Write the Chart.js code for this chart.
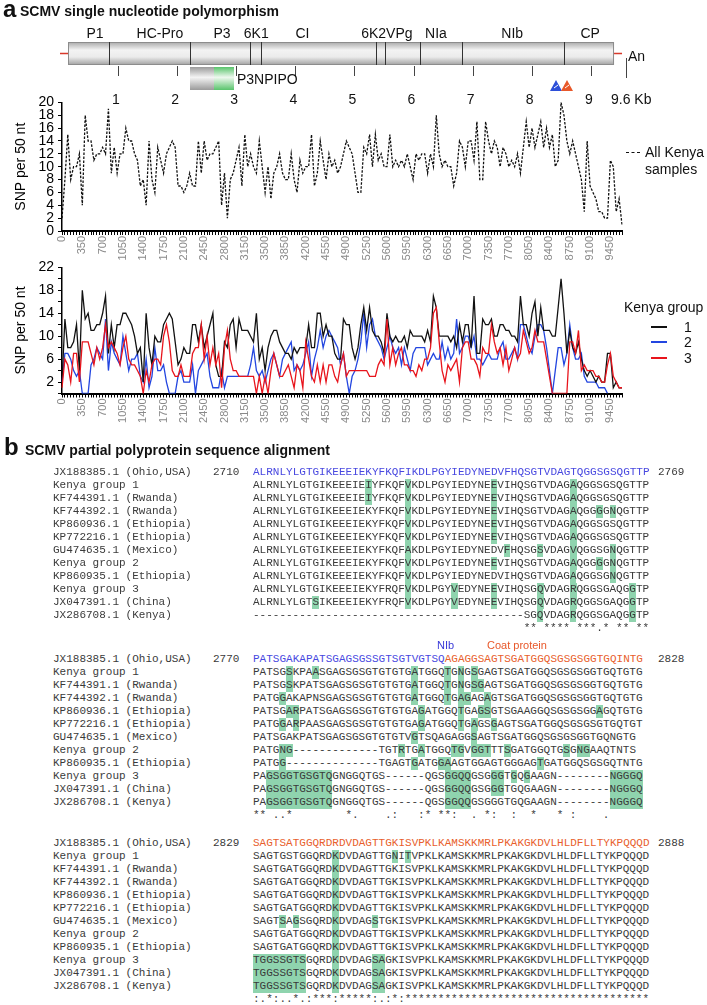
<!DOCTYPE html>
<html>
<head>
<meta charset="utf-8">
<script src="https://cdn.jsdelivr.net/npm/chart.js@4.4.0/dist/chart.umd.min.js"></script>
<style>
  body { margin: 0; background: #fff; }
  #pagina { position: relative; width: 707px; height: 1005px; overflow: hidden;
            font-family: "Liberation Sans", Arial, sans-serif; color: #111; }
  .abs { position: absolute; white-space: pre; }
  .seq { position: absolute; white-space: pre; font-family: "Liberation Mono", "DejaVu Sans Mono", monospace;
         font-size: 11px; line-height: 13px; height: 13px; color: #3a3a3a; }
  .hl { background: #8fd4ae; display: inline-block; height: 13px; vertical-align: top; }
</style>
</head>
<body>
<div id="pagina">
  <canvas id="mapaGenoma" width="707" height="110" style="position:absolute;left:0;top:0"></canvas>
  <div style="position:absolute;left:0;top:90px;width:707px;height:180px"><canvas id="graficoSnp"></canvas></div>
  <div style="position:absolute;left:0;top:255px;width:707px;height:180px"><canvas id="graficoGrupos"></canvas></div>
</div>

<script>
// ---------------------------------------------------------------------------
// Dados: SNP por janela de 50 nt
// ---------------------------------------------------------------------------
const passoJanela = 50;
const totalJanelas = 194;
const posicoesNt = Array.from({ length: totalJanelas }, (_, i) => String(i * passoJanela));

const snpTodasAmostras = [
  2, 8, 15, 8, 10, 10, 12, 4, 18, 14,
  14, 11, 12, 12, 13, 12, 19, 9, 13, 9,
  12, 12, 16, 14, 14, 12, 11, 7, 8, 4,
  14, 8, 6, 13, 11, 9, 12, 13, 14, 13,
  7, 7, 6, 7, 9, 7, 7, 14, 9, 14,
  11, 12, 12, 13, 14, 4, 9, 2, 8, 9,
  11, 13, 7, 15, 10, 12, 10, 9, 14, 10,
  6, 10, 5, 9, 10, 12, 9, 8, 8, 12,
  8, 6, 11, 9, 10, 10, 15, 7, 9, 14,
  11, 8, 12, 10, 11, 9, 10, 12, 14, 13,
  12, 9, 6, 6, 13, 12, 15, 10, 15, 11,
  12, 10, 10, 15, 10, 11, 10, 11, 10, 12,
  10, 8, 12, 11, 12, 12, 9, 12, 10, 18,
  12, 10, 11, 10, 10, 7, 9, 14, 13, 10,
  14, 14, 11, 17, 8, 8, 17, 14, 12, 14,
  13, 10, 13, 12, 10, 11, 10, 12, 9, 13,
  17, 13, 16, 13, 15, 17, 13, 16, 13, 15,
  10, 11, 20, 18, 14, 12, 14, 12, 10, 8,
  3, 14, 7, 6, 5, 3, 3, 2, 2, 11,
  10, 3, 5, 1
];

const snpGrupo1 = [
  2, 13, 8, 8, 9, 12, 4, 18, 13, 14,
  11, 11, 12, 12, 14, 17, 7, 12, 8, 12,
  12, 14, 14, 13, 12, 10, 7, 8, 2, 14,
  8, 5, 10, 9, 9, 12, 13, 14, 13, 9,
  5, 6, 8, 7, 7, 12, 12, 9, 12, 8,
  10, 12, 14, 5, 3, 3, 9, 8, 12, 13,
  8, 13, 11, 11, 11, 10, 9, 14, 6, 8,
  4, 8, 10, 11, 11, 9, 8, 7, 7, 6,
  8, 7, 8, 8, 8, 12, 8, 8, 14, 14,
  10, 12, 10, 10, 7, 6, 6, 13, 12, 12,
  8, 6, 8, 12, 15, 11, 15, 11, 10, 10,
  9, 7, 14, 10, 9, 10, 9, 9, 10, 8,
  11, 10, 10, 10, 10, 9, 11, 9, 17, 15,
  10, 10, 10, 10, 9, 10, 8, 12, 9, 12,
  12, 8, 17, 7, 7, 13, 12, 12, 13, 10,
  10, 12, 12, 11, 11, 10, 10, 9, 17, 12,
  12, 10, 14, 16, 10, 15, 11, 11, 11, 10,
  10, 15, 20, 14, 7, 11, 8, 7, 9, 6,
  4, 3, 4, 3, 2, 3, 2, 2, 7, 7,
  1, 2, 1, 1
];

const snpGrupo2 = [
  2, 7, 7, 6, 4, 3, 4, 0, 0, 0,
  5, 6, 8, 7, 6, 13, 4, 9, 7, 6,
  5, 10, 7, 4, 6, 6, 7, 3, 2, 6,
  1, 3, 8, 4, 4, 5, 2, 0, 0, 0,
  3, 4, 2, 2, 2, 5, 0, 4, 5, 6,
  7, 3, 1, 1, 1, 4, 1, 3, 3, 3,
  3, 3, 3, 3, 3, 5, 8, 4, 3, 4,
  2, 4, 6, 7, 5, 3, 6, 7, 8, 9,
  4, 5, 4, 5, 7, 9, 3, 6, 8, 11,
  8, 10, 11, 10, 9, 8, 5, 7, 3, 0,
  3, 4, 6, 9, 14, 8, 12, 13, 10, 9,
  8, 6, 8, 10, 8, 7, 8, 5, 8, 6,
  4, 7, 8, 8, 8, 8, 5, 6, 7, 6,
  6, 9, 6, 8, 6, 7, 13, 7, 8, 10,
  10, 8, 10, 6, 6, 5, 6, 7, 6, 6,
  6, 8, 9, 6, 6, 7, 8, 6, 12, 12,
  10, 8, 7, 10, 12, 12, 11, 8, 4, 0,
  4, 8, 8, 5, 7, 12, 8, 6, 6, 7,
  3, 2, 2, 2, 2, 1, 1, 1, 0, null,
  null, null, null, null
];

const snpGrupo3 = [
  1, 6, 5, 2, 7, 7, 2, 9, 9, 9,
  7, 5, 8, 6, 8, 12, 8, 9, 8, 7,
  5, 8, 10, 6, 5, 5, 4, 3, 0, 4,
  2, 5, 6, 6, 5, 10, 12, 9, 4, 3,
  3, 5, 3, 3, 3, 7, 8, 8, 12, 6,
  10, 5, 8, 5, 7, 1, 8, 11, 6, 4,
  4, 3, 3, 3, 3, 3, 3, 0, 3, 0,
  3, 0, 4, 7, 5, 3, 3, 4, 5, 3,
  1, 5, 4, 1, 9, 6, 3, 2, 5, 2,
  5, 2, 5, 5, 3, 2, 5, 7, 3, 4,
  4, 4, 4, 4, 4, 4, 3, 3, 3, 5,
  6, 5, 13, 5, 8, 5, 7, 8, 5, 5,
  4, 4, 3, 5, 4, 6, 6, 8, 14, 15,
  9, 4, 2, 5, 4, 5, 6, 2, 8, 9,
  9, 6, 6, 5, 3, 8, 7, 7, 12, 9,
  7, 8, 5, 8, 4, 6, 8, 6, 7, 11,
  9, 7, 8, 11, 9, 9, 9, 6, 3, 0,
  0, 0, 0, 0, 0, 9, 9, 7, 11, 4,
  5, 4, 4, 4, 3, 3, 2, 2, 5, 7,
  3, 2, 1, 1
];

// ---------------------------------------------------------------------------
// Mapa do genoma (posições em kb)
// ---------------------------------------------------------------------------
const barraGenomaKb = [0.154, 9.393];
const limitesGenesKb = [0.848, 2.218, 3.233, 3.420, 5.364, 5.516, 6.108, 6.819, 8.545];
const nomesGenes = ['P1', 'HC-Pro', 'P3', '6K1', 'CI', '6K2VPg', 'NIa', 'NIb', 'CP'];
const centrosGenesKb = [0.61, 1.71, 2.76, 3.34, 4.12, 5.55, 6.38, 7.67, 8.99];
const marcasKb = ['1', '2', '3', '4', '5', '6', '7', '8', '9'];

const pagina = document.getElementById('pagina');

function rotulo(texto, x, y, estilo, centralizado) {
  const el = document.createElement('div');
  el.className = 'abs';
  el.textContent = texto;
  el.style.left = x + 'px';
  el.style.top = y + 'px';
  el.style.transform = centralizado ? 'translate(-50%,-50%)' : 'translate(0,-50%)';
  el.style.cssText += estilo || '';
  pagina.appendChild(el);
  return el;
}

function desenharGenoma() {
  const g = document.getElementById('mapaGenoma').getContext('2d');
  const kbParaPx = kb => 58.9 + kb * 59.1;
  const x0 = kbParaPx(barraGenomaKb[0]);
  const x1 = kbParaPx(barraGenomaKb[1]);

  // traços vermelhos nas pontas
  g.strokeStyle = '#d8392b';
  g.lineWidth = 1.5;
  g.beginPath();
  g.moveTo(x0 - 8, 53.5); g.lineTo(x0, 53.5);
  g.moveTo(x1, 53.5); g.lineTo(x1 + 8, 53.5);
  g.stroke();

  // barra cinza
  const grad = g.createLinearGradient(0, 42, 0, 65);
  grad.addColorStop(0, '#a8a8a8');
  grad.addColorStop(0.35, '#f3f3f3');
  grad.addColorStop(0.65, '#ebebeb');
  grad.addColorStop(1, '#a0a0a0');
  g.fillStyle = grad;
  g.fillRect(x0, 42, x1 - x0, 23);
  g.strokeStyle = '#8c8c8c';
  g.lineWidth = 1;
  g.strokeRect(x0 + 0.5, 42.5, x1 - x0 - 1, 22);

  g.strokeStyle = '#333';
  g.beginPath();
  limitesGenesKb.forEach(kb => {
    const x = Math.round(kbParaPx(kb)) + 0.5;
    g.moveTo(x, 42); g.lineTo(x, 65);
  });
  g.stroke();

  // marcas de kb abaixo
  g.strokeStyle = '#444';
  g.beginPath();
  marcasKb.forEach(k => {
    const x = Math.round(kbParaPx(Number(k))) + 0.5;
    g.moveTo(x, 66); g.lineTo(x, 76);
  });
  const xFim = Math.round(kbParaPx(9.6)) + 0.5;
  g.moveTo(xFim, 58); g.lineTo(xFim, 78);
  g.stroke();

  // caixa P3N-PIPO
  const gc = g.createLinearGradient(0, 67, 0, 90);
  gc.addColorStop(0, '#9a9a9a'); gc.addColorStop(0.45, '#f4f4f4'); gc.addColorStop(1, '#9a9a9a');
  g.fillStyle = gc;
  g.fillRect(190, 67, 24, 23);
  const gv = g.createLinearGradient(0, 67, 0, 90);
  gv.addColorStop(0, '#59c46c'); gv.addColorStop(0.45, '#eef8ee'); gv.addColorStop(1, '#59c46c');
  g.fillStyle = gv;
  g.fillRect(214, 67, 20, 23);

  // triângulos (azul e laranja)
  [['#2d4fd8', 556], ['#e8582a', 567]].forEach(([cor, x]) => {
    g.fillStyle = cor;
    g.beginPath();
    g.moveTo(x, 80); g.lineTo(x + 6, 91); g.lineTo(x - 6, 91); g.closePath();
    g.fill();
    g.strokeStyle = '#fff';
    g.lineWidth = 1;
    g.beginPath();
    g.moveTo(x - 2, 88); g.lineTo(x + 2, 85);
    g.stroke();
  });

  nomesGenes.forEach((n, i) => rotulo(n, kbParaPx(centrosGenesKb[i]), 33, 'font-size:14px;', true));
  marcasKb.forEach(k => rotulo(k, kbParaPx(Number(k)) - 2, 99, 'font-size:14px;', true));
  rotulo('9.6 Kb', 611, 99, 'font-size:14px;', false);
  rotulo('An', 628, 56, 'font-size:14px;', false);
  rotulo('P3NPIPO', 237, 79, 'font-size:14px;', false);
}

// ---------------------------------------------------------------------------
// Títulos e legendas (texto real)
// ---------------------------------------------------------------------------
rotulo('a', 3, 9, 'font-size:24px;font-weight:bold;', false);
rotulo('SCMV single nucleotide polymorphism', 20, 11, 'font-size:14px;font-weight:bold;', false);
rotulo('b', 4, 447, 'font-size:24px;font-weight:bold;', false);
rotulo('SCMV partial polyprotein sequence alignment', 25, 450, 'font-size:14px;font-weight:bold;', false);

const tracoLegenda = document.createElement('div');
tracoLegenda.style.cssText = 'position:absolute;left:626px;top:152px;width:14px;border-top:1.5px dashed #111;';
pagina.appendChild(tracoLegenda);
rotulo('All Kenya', 645, 152, 'font-size:14px;', false);
rotulo('samples', 645, 169, 'font-size:14px;', false);

rotulo('Kenya group', 624, 307, 'font-size:14px;', false);
const coresGrupos = ['#111111', '#2346e0', '#e8141c'];
['1', '2', '3'].forEach((n, i) => {
  const y = Math.round(327 + i * 15.3);
  const linha = document.createElement('div');
  linha.style.cssText = `position:absolute;left:651px;top:${y - 1}px;width:16px;height:2px;background:${coresGrupos[i]};`;
  pagina.appendChild(linha);
  rotulo(n, 688, y, 'font-size:14px;', true);
});

desenharGenoma();

// ---------------------------------------------------------------------------
// Gráficos (Chart.js)
// ---------------------------------------------------------------------------
Chart.defaults.font.family = '"Liberation Sans", Arial, sans-serif';
Chart.defaults.color = '#000';
Chart.defaults.animation = false;

function eixoX(altura) {
  return {
    type: 'category',
    offset: false,
    afterFit: s => { s.height = altura; },
    border: { display: true, color: '#000', width: 2 },
    grid: { drawOnChartArea: false, drawTicks: true, tickLength: 4, color: '#000', lineWidth: 1 },
    ticks: {
      autoSkip: false, maxRotation: 90, minRotation: 90, padding: 1,
      color: '#8a8a8a', font: { size: 11 },
      callback: function (v, i) { return i % 7 === 0 ? this.getLabelForValue(v) : ''; }
    }
  };
}

function eixoY(max, mostrar) {
  return {
    min: 0, max: max,
    afterFit: s => { s.width = 62; },
    border: { display: true, color: '#000', width: 1.5 },
    grid: { drawOnChartArea: false, drawTicks: true, tickLength: 4, color: '#000' },
    ticks: { stepSize: 2, padding: 4, font: { size: 14 }, color: '#000', autoSkip: false,
      callback: v => (mostrar(v) ? String(v) : '') },
    title: { display: true, text: 'SNP per 50 nt', font: { size: 14 }, padding: { top: 12.5, bottom: 0 } }
  };
}

const graficoSnp = new Chart(document.getElementById('graficoSnp'), {
  type: 'line',
  data: {
    labels: posicoesNt,
    datasets: [{
      label: 'All Kenya samples',
      data: snpTodasAmostras,
      borderColor: '#111',
      borderWidth: 1.3,
      borderDash: [2.5, 1.5],
      pointRadius: 0,
      tension: 0
    }]
  },
  options: {
    responsive: true,
    maintainAspectRatio: false,
    layout: { padding: { top: 12, right: 85, left: 0, bottom: 0 } },
    plugins: { legend: { display: false }, tooltip: { enabled: false } },
    scales: { x: eixoX(39), y: eixoY(20, () => true) }
  }
});

const graficoGrupos = new Chart(document.getElementById('graficoGrupos'), {
  type: 'line',
  data: {
    labels: posicoesNt,
    datasets: [
      { label: '1', data: snpGrupo1, borderColor: coresGrupos[0], borderWidth: 1.3, pointRadius: 0, tension: 0, order: 2 },
      { label: '2', data: snpGrupo2, borderColor: coresGrupos[1], borderWidth: 1.3, pointRadius: 0, tension: 0, order: 3 },
      { label: '3', data: snpGrupo3, borderColor: coresGrupos[2], borderWidth: 1.3, pointRadius: 0, tension: 0, order: 1 }
    ]
  },
  options: {
    responsive: true,
    maintainAspectRatio: false,
    layout: { padding: { top: 12, right: 85, left: 0, bottom: 0 } },
    plugins: { legend: { display: false }, tooltip: { enabled: false } },
    scales: { x: eixoX(41.5), y: eixoY(22, v => v % 4 === 2) }
  }
});

// ---------------------------------------------------------------------------
// Alinhamento de sequências (painel b)
// ---------------------------------------------------------------------------
const nomesSequencias = [
  'JX188385.1 (Ohio,USA)', 'Kenya group 1', 'KF744391.1 (Rwanda)', 'KF744392.1 (Rwanda)',
  'KP860936.1 (Ethiopia)', 'KP772216.1 (Ethiopia)', 'GU474635.1 (Mexico)', 'Kenya group 2',
  'KP860935.1 (Ethiopia)', 'Kenya group 3', 'JX047391.1 (China)', 'JX286708.1 (Kenya)'
];

const bloco1Seqs = [
  'ALRNLYLGTGIKEEEIEKYFKQFIKDLPGYIEDYNEDVFHQSGTVDAGTQGGSGSQGTTP',
  'ALRNLYLGTGIKEEEIEIYFKQFVKDLPGYIEDYNEEVIHQSGTVDAGAQGGSGSQGTTP',
  'ALRNLYLGTGIKEEEIEIYFKQFVKDLPGYIEDYNEEVIHQSGTVDAGAQGGSGSQGTTP',
  'ALRNLYLGTGIKEEEIEKYFKQFVKDLPGYIEDYNEEVIHQSGTVDAGAQGGGGNQGTTP',
  'ALRNLYLGTGIKEEEIEKYFKQFVKDLPGYIEDYNEEVIHQSGTVDAGAQGGSGSQGTTP',
  'ALRNLYLGTGIKEEEIEKYFKQFVKDLPGYIEDYNEEVIHQSGTVDAGAQGGSGSQGTTP',
  'ALRNLYLGTGIKEEEIEKYFKQFAKDLPGYIEDYNEDVFHQSGSVDAGVQGGSGNQGTTP',
  'ALRNLYLGTGIKEEEIEKYFKQFVKDLPGYIEDYNEEVIHQSGTVDAGAQGGGGNQGTTP',
  'ALRNLYLGTGIKEEEIEKYFKQFVKDLPGYIEDYNEDVIHQSGTVDAGAQGGSGNQGTTP',
  'ALRNLYLGTGIKEEEIEKYFRQFVKDLPGYVEDYNEEVIHQSGQVDAGRQGGSGAQGGTP',
  'ALRNLYLGTSIKEEEIEKYFRQFVKDLPGYVEDYNEEVIHQSGQVDAGRQGGSGAQGGTP',
  '-----------------------------------------SGQVDAGRQGGSGAQGGTP'
];
const bloco1Destaques = [
  [], [18, 24, 37, 49], [18, 24, 37, 49], [24, 37, 49, 53, 55], [24, 37, 49], [24, 37, 49],
  [24, 39, 44, 49, 55], [24, 37, 49, 53, 55], [24, 49, 55], [24, 31, 37, 44, 49, 58],
  [10, 24, 31, 37, 44, 49, 58], [44, 49, 58]
];
const bloco1Consenso = '                                         ** **** ***.* ** **';

const bloco2Seqs = [
  'PATSGAKAPATSGAGSGSSGTSGTVGTSQAGAGGSAGTSGATGGQSGSGSGGTGQINTG',
  'PATSGSKPAASGAGSGSGTGTGTGATGGQTGNGSGAGTSGATGGQSGSGSGGTGQTGTG',
  'PATSGSKPATSGAGSGSGTGTGTGATGGQTGNGSGAGTSGATGGQSGSGSGGTGQTGTG',
  'PATGGAKAPNSGAGSGSGTGTGTGATGGQTGAGAGAGTSGATGGQSGSGSGGTGQTGTG',
  'PATSGARPATSGAGSGSGTGTGTGAGATGGQTGAGSGTSGAAGGQSGSGSGGAGQTGTG',
  'PATGGARPAASGAGSGSGTGTGTGAGATGGQTGAGSGAGTSGATGGQSGSGSGTGQTGT',
  'PATSGAKPATSGAGSGSGTGTGTVGTSQAGAGGSAGTSGATGGQSGSGSGGTGQNGTG',
  'PATGNG-------------TGTRTGATGGQTGVGGTTTSGATGGQTGSGNGAAQTNTS',
  'PATGG--------------TGAGTGATGGAAGTGGAGTGGGAGTGATGGQSGSGQTNTG',
  'PAGSGGTGSGTQGNGGQTGS------QGSGGQQGSGGGTGQGAAGN--------NGGGQ',
  'PAGSGGTGSGTQGNGGQTGS------QGSGGQQGSGGGTGQGAAGN--------NGGGQ',
  'PAGSGGTGSGTQGNGGQTGS------QGSGGQQGSGGGTGQGAAGN--------NGGGQ'
];
const bloco2Destaques = [
  [], [6, 10, 25, 30, 32, 34], [6, 25, 30, 32, 34, 35], [5, 25, 30, 32, 33, 36],
  [6, 7, 26, 32, 35, 36, 53], [5, 7, 26, 32, 34, 37], [25, 34],
  [5, 6, 23, 26, 31, 32, 34, 35, 36, 39, 48, 50, 51], [5, 25, 29, 30, 44],
  [3, 4, 5, 6, 7, 8, 9, 10, 11, 12, 30, 31, 32, 33, 37, 38, 40, 42, 55, 56, 57, 58, 59],
  [3, 4, 5, 6, 7, 8, 9, 10, 11, 12, 30, 31, 32, 33, 37, 38, 55, 56, 57, 58, 59],
  [3, 4, 5, 6, 7, 8, 9, 10, 11, 12, 30, 31, 32, 33, 55, 56, 57, 58, 59]
];
const bloco2Consenso = '** ..*        *.    .:   :* **:  . *:  :  *   * :    .';

const bloco3Seqs = [
  'SAGTSATGGQRDRDVDAGTTGKISVPKLKAMSKKMRLPKAKGKDVLHLDFLLTYKPQQQD',
  'SAGTGSTGGQRDKDVDAGTTGNITVPKLKAMSKKMRLPKAKGKDVLHLDFLLTYKPQQQD',
  'SAGTGATGGQRDKDVDAGTTGKISVPKLKAMSKKMRLPKAKGKDVLHLDFLLTYKPQQQD',
  'SAGTGATGGQRDKDVDAGTTGKISVPKLKAMSKKMRLPKAKGKDVLHLDFLLTYKPQQQD',
  'SAGTGATGGQRDKDVDAGTTGKISVPKLKAMSKKMRLPKAKGKDVLHLDFLLTYKPQQQD',
  'SAGTGATGGQRDKDVDAGTTGKISVPKLKAMSKKMRLPKAKGKDVLHLDFLLTYKPQQQD',
  'SAGTSAGSGQRDKDVDAGSTGKISVPKLKAMSKKMRLPKAKGKDVLHLDFLLTYKPQQQD',
  'SAGTGATGGQRDKDVDAGTTGKISVPKLKAMSKKMRLPKAKGKDVLHLDFLLTYKPQQQD',
  'SAGTGATGGQRDKDVDAGTTGKISVPKLKAMSKKMRLPKAKGKDVLHLDFLLTYKPQQQD',
  'TGGSSGTSGQRDKDVDAGSAGKISVPKLKAMSKKMRLPKAKGKDVLHLDFLLTYKPQQQD',
  'TGGSSGTSGQRDKDVDAGSAGKISVPKLKAMSKKMRLPKAKGKDVLHLDFLLTYKPQQQD',
  'TGGSSGTSGQRDKDVDAGSAGKISVPKLKAMSKKMRLPKAKGKDVLHLDFLLTYKPQQQD'
];
const bloco3Destaques = [
  [], [13, 22, 24], [13], [13], [13], [13], [5, 7, 13, 19], [13], [13],
  [1, 2, 3, 4, 5, 6, 7, 8, 13, 19, 20], [1, 2, 3, 4, 5, 6, 7, 8, 13, 19, 20],
  [1, 2, 3, 4, 5, 6, 7, 8, 13, 19, 20]
];
const bloco3Consenso = ':.*:..*.:***:*****:.:*:*************************************';

const blocos = [
  { y: 472, inicio: '2710', fim: '2769', seqs: bloco1Seqs, destaques: bloco1Destaques, consenso: bloco1Consenso, azuis: 60 },
  { y: 659, inicio: '2770', fim: '2828', seqs: bloco2Seqs, destaques: bloco2Destaques, consenso: bloco2Consenso, azuis: 29 },
  { y: 843, inicio: '2829', fim: '2888', seqs: bloco3Seqs, destaques: bloco3Destaques, consenso: bloco3Consenso, azuis: 0 }
];

function linhaSeq(texto, x, yCentro, html) {
  const el = document.createElement('div');
  el.className = 'seq';
  el.style.left = x + 'px';
  el.style.top = (yCentro - 6.5) + 'px';
  if (html) el.innerHTML = texto; else el.textContent = texto;
  pagina.appendChild(el);
  return el;
}

function montarBloco(bloco) {
  bloco.seqs.forEach((seq, r) => {
    const y = bloco.y + r * 13.05;
    linhaSeq(nomesSequencias[r], 53, y);
    const hl = new Set(bloco.destaques[r]);
    let html = '';
    for (let c = 0; c < seq.length; c++) {
      const ch = seq[c];
      if (r === 0) {
        const cor = c < bloco.azuis ? '#4848e0' : '#e8602c';
        html += `<span style="color:${cor}">${ch}</span>`;
      } else if (hl.has(c + 1)) {
        html += `<span class="hl">${ch}</span>`;
      } else {
        html += ch;
      }
    }
    linhaSeq(html, 253, y, true);
    if (r === 0) {
      linhaSeq(bloco.inicio, 213, y);
      linhaSeq(bloco.fim, 658, y);
    }
  });
  linhaSeq(bloco.consenso, 253, bloco.y + 12 * 13.05);
}

blocos.forEach(montarBloco);
rotulo('NIb', 437, 645, 'font-size:11px;color:#3a3ad8;', false);
rotulo('Coat protein', 487, 645, 'font-size:11px;color:#e8582a;', false);
</script>
</body>
</html>
